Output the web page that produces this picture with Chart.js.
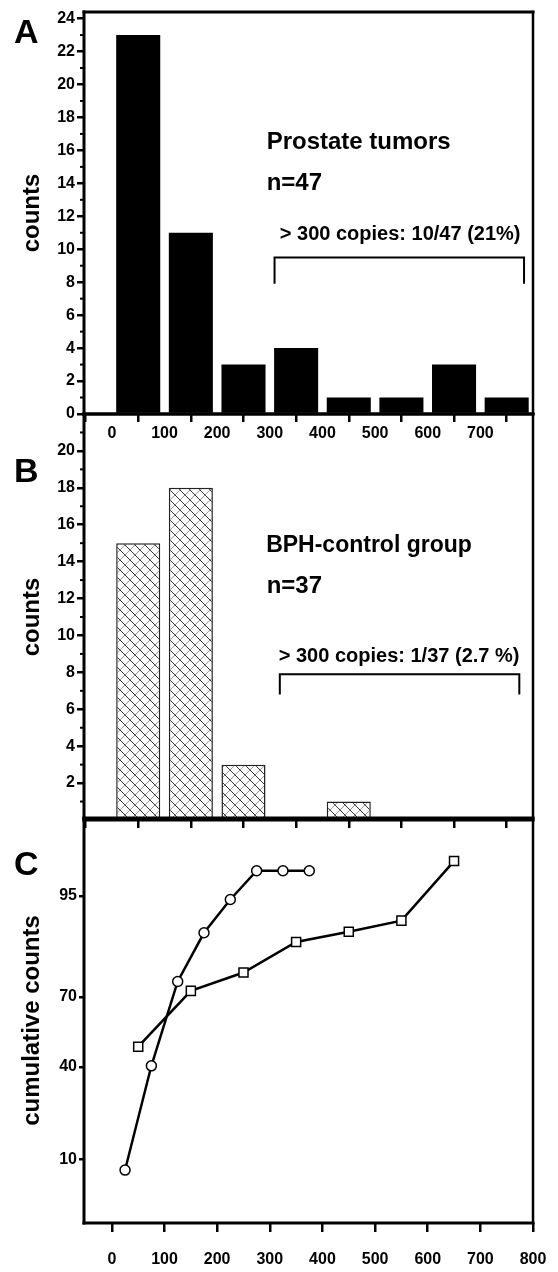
<!DOCTYPE html>
<html><head><meta charset="utf-8">
<script src="https://cdn.jsdelivr.net/npm/chart.js@4.4.1/dist/chart.umd.min.js"></script>
<style>
html,body{margin:0;padding:0;background:#fff;}
body{width:558px;height:1272px;position:relative;overflow:hidden;}
canvas{position:absolute;left:0;}
#cA{top:0;} #cB{top:400px;} #cC{top:805px;}
</style></head><body>
<canvas id="cA" width="558" height="450"></canvas>
<canvas id="cB" width="558" height="440"></canvas>
<canvas id="cC" width="558" height="467"></canvas>
<script>
// ---------- data ----------
const tumorBins = [50,150,250,350,450,550,650,750];
const tumorCounts = [23,11,3,4,1,1,3,1];
const bphBins = [50,150,250,450];
const bphCounts = [15,18,3,1];

const xTicksAB = [0,100,200,300,400,500,600,700];
const xTicksC = [0,100,200,300,400,500,600,700,800];
const yTicksA = [0,2,4,6,8,10,12,14,16,18,20,22,24];
const yMinorA = [1,3,5,7,9,11,13,15,17,19,21,23];
const yTicksB = [2,4,6,8,10,12,14,16,18,20];
const yMinorB = [1,3,5,7,9,11,13,15,17,19,21];
const yTicksC = [10,40,70,95];

const bphCumX = [25,75,125,175,225,275,325,375];
const bphCumPct = [8.1,40.5,75.7,89.2,94.6,97.3,97.3,97.3];
const tumorCumX = [50,150,250,350,450,550,650];
const tumorCumPct = [48.9,72.3,78.7,87.2,89.4,91.5,97.9];

// annotation brackets (data coordinates)
const bracketAX = [309,309,783,783], bracketAY = [7.9,9.5,9.5,7.9];
const bracketBX = [319,319,774,774], bracketBY = [6.8,7.9,7.9,6.8];

// ---------- setup ----------
const FAM = '"Liberation Sans", Arial, Helvetica, sans-serif';
Chart.defaults.font.family = FAM;
Chart.defaults.font.weight = 'bold';
Chart.defaults.color = '#000';

function probit(p){
 const a=[-3.969683028665376e+01,2.209460984245205e+02,-2.759285104469687e+02,1.383577518672690e+02,-3.066479806614716e+01,2.506628277459239e+00];
 const b=[-5.447609879822406e+01,1.615858368580409e+02,-1.556989798598866e+02,6.680131188771972e+01,-1.328068155288572e+01];
 const c=[-7.784894002430293e-03,-3.223964580411365e-01,-2.400758277161838e+00,-2.549732539343734e+00,4.374664141464968e+00,2.938163982698783e+00];
 const d=[7.784695709041462e-03,3.224671290700398e-01,2.445134137142996e+00,3.754408661907416e+00];
 const pl=0.02425, ph=1-pl; let q,r;
 if(p<pl){q=Math.sqrt(-2*Math.log(p));return (((((c[0]*q+c[1])*q+c[2])*q+c[3])*q+c[4])*q+c[5])/((((d[0]*q+d[1])*q+d[2])*q+d[3])*q+1);}
 if(p<=ph){q=p-0.5;r=q*q;return (((((a[0]*r+a[1])*r+a[2])*r+a[3])*r+a[4])*r+a[5])*q/(((((b[0]*r+b[1])*r+b[2])*r+b[3])*r+b[4])*r+1);}
 q=Math.sqrt(-2*Math.log(1-p));return -(((((c[0]*q+c[1])*q+c[2])*q+c[3])*q+c[4])*q+c[5])/((((d[0]*q+d[1])*q+d[2])*q+d[3])*q+1);
}
function normcdf(z){const t=1/(1+0.2316419*Math.abs(z));const y=0.3989423*Math.exp(-z*z/2)*t*(0.3193815+t*(-0.3565638+t*(1.781478+t*(-1.821256+t*1.330274))));return z>0?1-y:y;}

class ProbitScale extends Chart.LinearScale {
  buildTicks(){ return []; }
  configure(){ super.configure(); this._zmin = probit(this.min/100); this._zmax = probit(this.max/100); }
  getPixelForValue(v){ return this.getPixelForDecimal((probit(v/100)-this._zmin)/(this._zmax-this._zmin)); }
  getValueForPixel(px){ const z=this._zmin+this.getDecimalForPixel(px)*(this._zmax-this._zmin); return 100*normcdf(z); }
}
ProbitScale.id = 'probit';
ProbitScale.defaults = {};
Chart.register(ProbitScale);

const deco = {
  id:'deco',
  afterDraw(chart, args, o){
    if(!o || !o.letter) return;
    const ctx = chart.ctx, ca = chart.chartArea;
    ctx.save();
    ctx.strokeStyle = '#000'; ctx.fillStyle = '#000'; ctx.lineCap = 'square';
    const ln = (x1,y1,x2,y2,w)=>{ctx.lineWidth=w;ctx.beginPath();ctx.moveTo(x1,y1);ctx.lineTo(x2,y2);ctx.stroke();};
    ln(ca.left, ca.top, ca.left, ca.bottom, 3);
    ln(ca.left, ca.bottom, ca.right, ca.bottom, 3);
    ln(ca.left, ca.top, ca.right, ca.top, 3);
    ln(ca.right, ca.top, ca.right, ca.bottom, 2.5);
    ctx.lineCap = 'butt';
    const ys = chart.scales.y, xs = chart.scales.x;
    (o.minor||[]).forEach(v=>{ const y = ys.getPixelForValue(v); ln(ca.left-4, y, ca.left, y, 2); });
    (o.notes||[]).forEach(n=>{
      ctx.font = 'bold '+n.s+'px '+FAM; ctx.textBaseline='alphabetic'; ctx.textAlign='left';
      ctx.fillText(n.t, xs.getPixelForValue(n.x), ys.getPixelForValue(n.y));
    });
    ctx.font = 'bold 34px '+FAM; ctx.textBaseline='alphabetic'; ctx.textAlign='left';
    ctx.fillText(o.letter, 14, o.letterY);
    ctx.restore();
  }
};
Chart.register(deco);

function hatch(){
  const s=10, c=document.createElement('canvas'); c.width=s; c.height=s;
  const g=c.getContext('2d'); g.fillStyle='#fff'; g.fillRect(0,0,s,s);
  g.lineWidth=1;
  g.strokeStyle='#333';
  g.beginPath(); g.moveTo(-1,-1); g.lineTo(s+1,s+1); g.moveTo(-1,s-1); g.lineTo(1,s+1); g.moveTo(s-1,-1); g.lineTo(s+1,1); g.stroke();
  g.strokeStyle='#999';
  g.beginPath(); g.moveTo(-1,s+1); g.lineTo(s+1,-1); g.moveTo(-1,1); g.lineTo(1,-1); g.moveTo(s-1,s+1); g.lineTo(s+1,s-1); g.stroke();
  return g.createPattern(c,'repeat');
}

const tickFont = {size:16, weight:'bold'};
const titleFont = {size:24, weight:'bold'};
const setTicks = arr => s => { s.ticks = arr.map(v=>({value:v})); };
const fitX = h => s => { s.height = h; s.paddingLeft = 0; s.paddingRight = 0; };
const fitY = w => s => { s.width = w; s.paddingTop = 0; s.paddingBottom = 0; };
const gridOpt = len => ({drawOnChartArea:false, drawTicks:true, tickLength:len, tickWidth:2.5, tickColor:'#000', color:'#000', lineWidth:2.5});
const common = {responsive:false, animation:false, events:[]};
const pts = (xs, ys) => xs.map((x,i)=>({x, y:ys[i]}));

// ---------- Panel A ----------
new Chart(document.getElementById('cA'), {
  type:'bar',
  data:{datasets:[
    {type:'bar', data:pts(tumorBins,tumorCounts), backgroundColor:'#000', borderWidth:0, barPercentage:0.93, categoryPercentage:0.9},
    {type:'line', data:pts(bracketAX,bracketAY), borderColor:'#000', borderWidth:2, pointRadius:0, fill:false, tension:0}
  ]},
  options:{...common,
    layout:{padding:{top:12,right:25,left:0,bottom:0}},
    plugins:{legend:{display:false}, tooltip:{enabled:false},
      deco:{letter:'A', letterY:43, minor:yMinorA, notes:[
        {t:'Prostate tumors', x:294, y:16.1, s:24},
        {t:'n=47', x:294, y:13.6, s:24},
        {t:'> 300 copies: 10/47 (21%)', x:319, y:10.55, s:20}]}},
    scales:{
      x:{type:'linear', min:-53, max:800, offset:false, afterBuildTicks:setTicks(xTicksAB), afterFit:fitX(36),
         grid:gridOpt(8), border:{display:false}, ticks:{font:tickFont, color:'#000', padding:2, maxRotation:0, autoSkip:false}},
      y:{type:'linear', min:0, max:24.4, afterBuildTicks:setTicks(yTicksA), afterFit:fitY(84),
         title:{display:true, text:'counts', font:titleFont, color:'#000', padding:{top:18,bottom:0}},
         grid:gridOpt(7), border:{display:false}, ticks:{font:tickFont, color:'#000', padding:2, autoSkip:false}}
    }
  }
});

// ---------- Panel B ----------
new Chart(document.getElementById('cB'), {
  type:'bar',
  data:{datasets:[
    {type:'bar', data:pts(bphBins,bphCounts), backgroundColor:hatch(), borderColor:'#222', borderWidth:1.5, borderSkipped:false, barPercentage:0.93, categoryPercentage:0.9},
    {type:'line', data:pts(bracketBX,bracketBY), borderColor:'#000', borderWidth:2, pointRadius:0, fill:false, tension:0}
  ]},
  options:{...common,
    layout:{padding:{top:14,right:25,left:0,bottom:0}},
    plugins:{legend:{display:false}, tooltip:{enabled:false},
      deco:{letter:'B', letterY:82, minor:yMinorB, notes:[
        {t:'BPH-control group', x:293, y:14.5, s:23},
        {t:'n=37', x:294, y:12.3, s:24},
        {t:'> 300 copies: 1/37 (2.7 %)', x:317, y:8.57, s:20}]}},
    scales:{
      x:{type:'linear', min:-53, max:800, offset:false, afterBuildTicks:setTicks(xTicksAB), afterFit:fitX(20),
         grid:gridOpt(8), border:{display:false}, ticks:{font:tickFont, color:'#000', padding:2, maxRotation:0, autoSkip:false, callback:()=>''}},
      y:{type:'linear', min:0, max:22, afterBuildTicks:setTicks(yTicksB), afterFit:fitY(84),
         title:{display:true, text:'counts', font:titleFont, color:'#000', padding:{top:18,bottom:0}},
         grid:gridOpt(7), border:{display:false}, ticks:{font:tickFont, color:'#000', padding:2, autoSkip:false}}
    }
  }
});

// ---------- Panel C ----------
new Chart(document.getElementById('cC'), {
  type:'line',
  data:{datasets:[
    {data:pts(tumorCumX,tumorCumPct), borderColor:'#000', borderWidth:2.5, pointStyle:'rect', pointRadius:6.4, pointBackgroundColor:'#fff', pointBorderColor:'#000', pointBorderWidth:1.5, tension:0, fill:false},
    {data:pts(bphCumX,bphCumPct), borderColor:'#000', borderWidth:2.5, pointStyle:'circle', pointRadius:5, pointBackgroundColor:'#fff', pointBorderColor:'#000', pointBorderWidth:1.5, tension:0, fill:false}
  ]},
  options:{...common,
    layout:{padding:{top:13,right:25,left:0,bottom:0}},
    plugins:{legend:{display:false}, tooltip:{enabled:false},
      deco:{letter:'C', letterY:70, minor:[], notes:[]}},
    scales:{
      x:{type:'linear', min:-53, max:800, offset:false, afterBuildTicks:setTicks(xTicksC), afterFit:fitX(49),
         grid:gridOpt(9), border:{display:false}, ticks:{font:tickFont, color:'#000', padding:18, maxRotation:0, autoSkip:false}},
      y:{type:'probit', min:2.35, max:99.4, afterBuildTicks:setTicks(yTicksC), afterFit:fitY(84),
         title:{display:true, text:'cumulative counts', font:titleFont, color:'#000', padding:{top:18,bottom:0}},
         grid:gridOpt(5), border:{display:false}, ticks:{font:tickFont, color:'#000', padding:2, autoSkip:false, callback:v=>String(v)}}
    }
  }
});
</script>
</body></html>
